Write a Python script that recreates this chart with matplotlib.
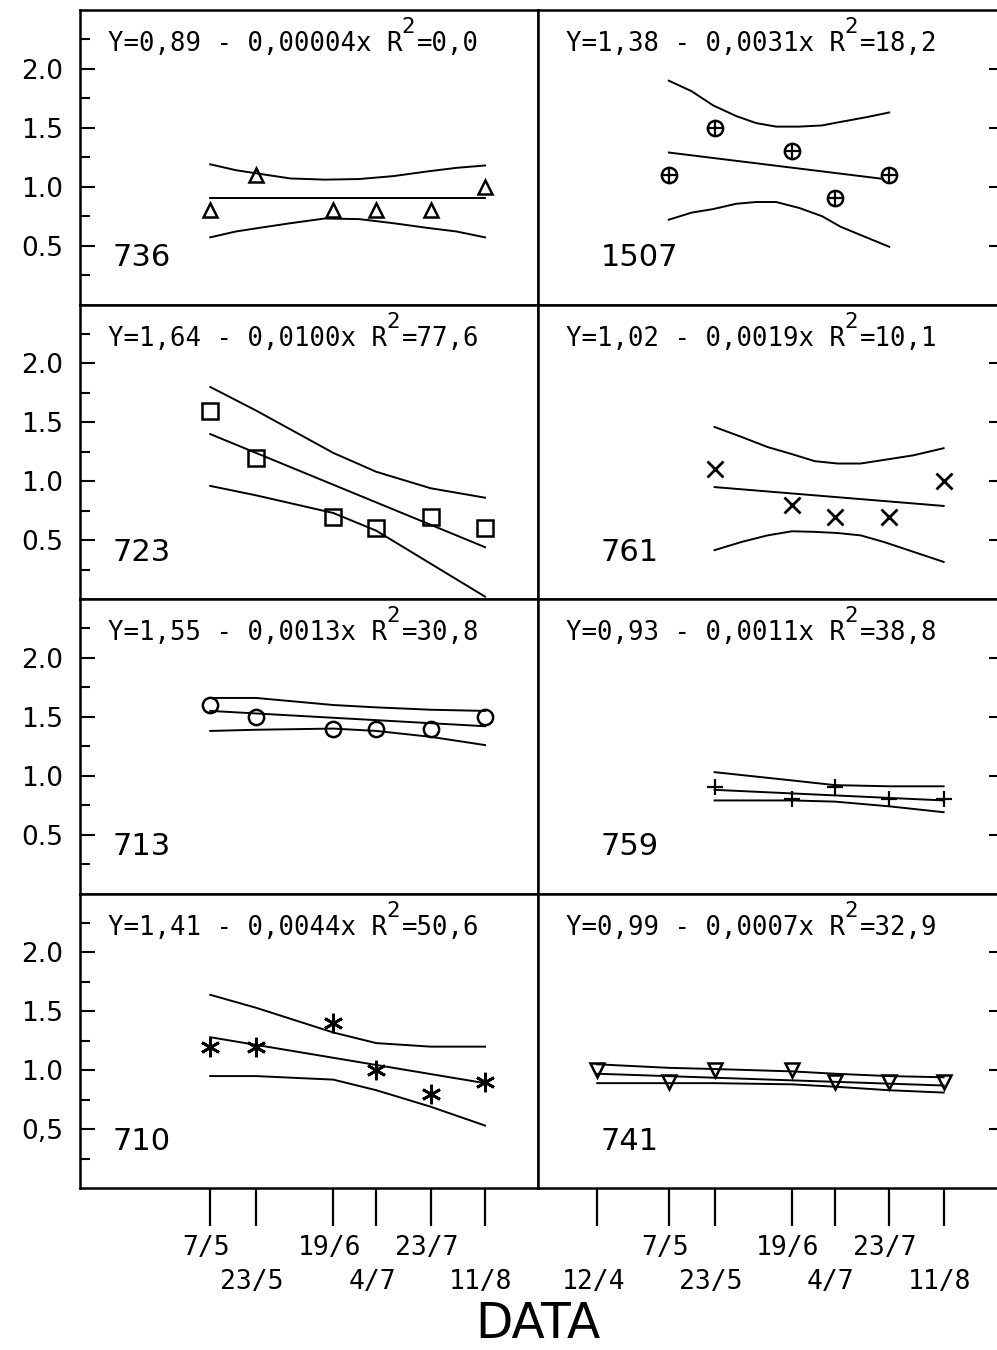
import matplotlib.pyplot as plt

# sampling dates (day of year, non-leap) and their tick labels
dates = ["12/4", "7/5", "23/5", "19/6", "4/7", "23/7", "11/8"]
days = [102, 127, 143, 170, 185, 204, 223]
label_row = [1, 0, 1, 0, 1, 0, 1]   # 0 = upper line of labels, 1 = lower line

# each panel: indices into dates, observed values, band x (days), upper / lower band,
# fitted line (first, last date)
p736_idx = [1, 2, 3, 4, 5, 6]
p736_y = [0.8, 1.1, 0.8, 0.8, 0.8, 1.0]
p736_bx = [127, 136, 144, 155, 167, 179, 191, 203, 213, 223]
p736_hi = [1.19, 1.14, 1.11, 1.07, 1.06, 1.065, 1.09, 1.13, 1.16, 1.18]
p736_lo = [0.57, 0.62, 0.65, 0.69, 0.73, 0.725, 0.69, 0.65, 0.62, 0.57]
p736_fit = [0.90, 0.90]

p1507_idx = [1, 2, 3, 4, 5]
p1507_y = [1.1, 1.5, 1.3, 0.9, 1.1]
p1507_bx = [127, 135, 142.5, 150.5, 157.5, 164.5, 172.5, 180.5, 187, 196, 204]
p1507_hi = [1.90, 1.81, 1.69, 1.60, 1.54, 1.51, 1.51, 1.52, 1.55, 1.59, 1.63]
p1507_lo = [0.72, 0.78, 0.81, 0.855, 0.87, 0.87, 0.82, 0.75, 0.66, 0.57, 0.49]
p1507_fit = [1.29, 1.06]

p723_idx = [1, 2, 3, 4, 5, 6]
p723_y = [1.6, 1.2, 0.7, 0.6, 0.7, 0.6]
p723_bx = [127, 143, 170, 185, 204, 223]
p723_hi = [1.80, 1.60, 1.24, 1.08, 0.94, 0.86]
p723_lo = [0.96, 0.88, 0.73, 0.58, 0.30, 0.02]
p723_fit = [1.40, 0.44]

p761_idx = [2, 3, 4, 5, 6]
p761_y = [1.1, 0.8, 0.7, 0.7, 1.0]
p761_bx = [143, 152.5, 161.5, 170, 178, 186, 194, 202, 212.5, 223]
p761_hi = [1.46, 1.375, 1.29, 1.23, 1.17, 1.15, 1.15, 1.18, 1.22, 1.28]
p761_lo = [0.415, 0.485, 0.54, 0.575, 0.57, 0.56, 0.54, 0.485, 0.40, 0.315]
p761_fit = [0.95, 0.79]

p713_idx = [1, 2, 3, 4, 5, 6]
p713_y = [1.6, 1.5, 1.4, 1.4, 1.4, 1.5]
p713_bx = [127, 143, 170, 185, 204, 223]
p713_hi = [1.66, 1.66, 1.60, 1.58, 1.56, 1.55]
p713_lo = [1.38, 1.39, 1.40, 1.38, 1.33, 1.26]
p713_fit = [1.55, 1.42]

p759_idx = [2, 3, 4, 5, 6]
p759_y = [0.9, 0.8, 0.9, 0.8, 0.8]
p759_bx = [143, 170, 185, 204, 223]
p759_hi = [1.03, 0.96, 0.92, 0.91, 0.91]
p759_lo = [0.79, 0.79, 0.78, 0.74, 0.69]
p759_fit = [0.88, 0.79]

p710_idx = [1, 2, 3, 4, 5, 6]
p710_y = [1.2, 1.2, 1.4, 1.0, 0.8, 0.9]
p710_bx = [127, 143, 170, 185, 204, 223]
p710_hi = [1.64, 1.53, 1.32, 1.23, 1.20, 1.20]
p710_lo = [0.95, 0.95, 0.92, 0.83, 0.69, 0.53]
p710_fit = [1.28, 0.89]

p741_idx = [0, 1, 2, 3, 4, 5, 6]
p741_y = [1.0, 0.9, 1.0, 1.0, 0.9, 0.9, 0.9]
p741_bx = [102, 127, 143, 170, 185, 204, 223]
p741_hi = [1.05, 1.02, 1.01, 0.99, 0.97, 0.95, 0.94]
p741_lo = [0.89, 0.89, 0.89, 0.88, 0.86, 0.83, 0.81]
p741_fit = [0.97, 0.87]

eq_head = ["Y=0,89 - 0,00004x R", "Y=1,38 - 0,0031x R", "Y=1,64 - 0,0100x R", "Y=1,02 - 0,0019x R",
           "Y=1,55 - 0,0013x R", "Y=0,93 - 0,0011x R", "Y=1,41 - 0,0044x R", "Y=0,99 - 0,0007x R"]
eq_tail = ["=0,0", "=18,2", "=77,6", "=10,1", "=30,8", "=38,8", "=50,6", "=32,9"]

panels = [
    ("736", p736_idx, p736_y, p736_bx, p736_hi, p736_lo, p736_fit, "tri"),
    ("1507", p1507_idx, p1507_y, p1507_bx, p1507_hi, p1507_lo, p1507_fit, "oplus"),
    ("723", p723_idx, p723_y, p723_bx, p723_hi, p723_lo, p723_fit, "sq"),
    ("761", p761_idx, p761_y, p761_bx, p761_hi, p761_lo, p761_fit, "x"),
    ("713", p713_idx, p713_y, p713_bx, p713_hi, p713_lo, p713_fit, "circ"),
    ("759", p759_idx, p759_y, p759_bx, p759_hi, p759_lo, p759_fit, "plus"),
    ("710", p710_idx, p710_y, p710_bx, p710_hi, p710_lo, p710_fit, "ast"),
    ("741", p741_idx, p741_y, p741_bx, p741_hi, p741_lo, p741_fit, "tri_down"),
]

W, H = 997, 1350
fig = plt.figure(figsize=(W / 100, H / 100), dpi=100)

col_x = [80, 538]
col_w = [458, 466]
col_xlim = [(81.5, 81.5 + 458 / 2.8625), (81.3, 81.3 + 466 / 2.8625)]
row_top = 10
row_h = 294.5

fs_eq = 18.5
adv = 0.602 * fs_eq

for k, (name, idx, yv, bx, hi, lo, fit, mk) in enumerate(panels):
    r, c = divmod(k, 2)
    top = row_top + r * row_h
    ax = fig.add_axes([col_x[c] / W, 1 - (top + row_h) / H, col_w[c] / W, row_h / H])
    ax.set_xlim(*col_xlim[c])
    ax.set_ylim(0, 2.5)
    for s in ax.spines.values():
        s.set_linewidth(1.8)

    xs = [days[i] for i in idx]
    ax.plot(bx, hi, color="black", lw=1.4)
    ax.plot(bx, lo, color="black", lw=1.4)
    ax.plot([xs[0], xs[-1]], fit, color="black", lw=1.4)

    kw = dict(ls="none", color="black", zorder=3)
    if mk == "tri":
        ax.plot(xs, yv, marker="^", ms=10, mfc="none", mew=1.8, **kw)
    elif mk == "oplus":
        ax.plot(xs, yv, marker="o", ms=11, mfc="white", mew=1.8, **kw)
        ax.plot(xs, yv, marker="+", ms=10, mew=1.6, **kw)
    elif mk == "sq":
        ax.plot(xs, yv, marker="s", ms=11, mfc="none", mew=1.8, **kw)
    elif mk == "x":
        ax.plot(xs, yv, marker="x", ms=11, mew=2.0, **kw)
    elif mk == "circ":
        ax.plot(xs, yv, marker="o", ms=11, mfc="none", mew=1.8, **kw)
    elif mk == "plus":
        ax.plot(xs, yv, marker="+", ms=12, mew=1.6, **kw)
    elif mk == "ast":
        ax.plot(xs, yv, marker=(6, 2, 0), ms=14, mew=2.0, **kw)
    else:
        ax.plot(xs, yv, marker="v", ms=10, mfc="none", mew=1.8, **kw)

    # equation: head, raised "2", tail (monospace, so positions follow character count)
    n = len(eq_head[k])
    eq_kw = dict(xy=(0, 1), xycoords="axes fraction", textcoords="offset points",
                 family="DejaVu Sans Mono", ha="left", va="center")
    ax.annotate(eq_head[k], xytext=(20, -24.5), fontsize=fs_eq, **eq_kw)
    ax.annotate("2", xytext=(20 + n * adv, -12.5), fontsize=16, **eq_kw)
    ax.annotate(eq_tail[k], xytext=(20 + (n + 1) * adv, -24.5), fontsize=fs_eq, **eq_kw)

    ax.text(0.070 if c == 0 else 0.135, 0.158, name, transform=ax.transAxes,
            fontsize=22, ha="left", va="center")

    ax.set_yticks([0.5, 1.0, 1.5, 2.0])
    ax.set_yticks([0.25, 0.75, 1.25, 1.75, 2.25], minor=True)
    if c == 0:
        half = "0,5" if r == 3 else "0.5"
        ax.set_yticklabels([half, "1.0", "1.5", "2.0"], fontsize=19)
        ax.tick_params(axis="y", which="both", direction="in", left=True, right=False,
                       labelleft=True, width=1.5, pad=12)
        ax.tick_params(axis="y", which="major", length=11)
        ax.tick_params(axis="y", which="minor", length=7)
    else:
        ax.tick_params(axis="y", which="both", direction="in", left=False, right=True,
                       labelleft=False, width=1.5)
        ax.tick_params(axis="y", which="major", length=11)
        ax.tick_params(axis="y", which="minor", length=3)

    if r < 3:
        ax.set_xticks([])
    else:
        use = [i for i in range(len(days)) if c == 1 or i > 0]
        ax.set_xticks([days[i] for i in use])
        ax.set_xticklabels([])
        ax.tick_params(axis="x", direction="out", length=27, width=1.6)
        for i in use:
            off = -43 if label_row[i] == 0 else -68
            ax.annotate(dates[i], xy=(days[i], 0), xycoords=("data", "axes fraction"),
                        xytext=(-3, off), textcoords="offset points", family="DejaVu Sans Mono",
                        fontsize=19, ha="center", va="center")

fig.text(538 / W, 1 - 1338 / H, "DATA", ha="center", va="baseline", fontsize=35)

fig.savefig("out.png", dpi=100)
